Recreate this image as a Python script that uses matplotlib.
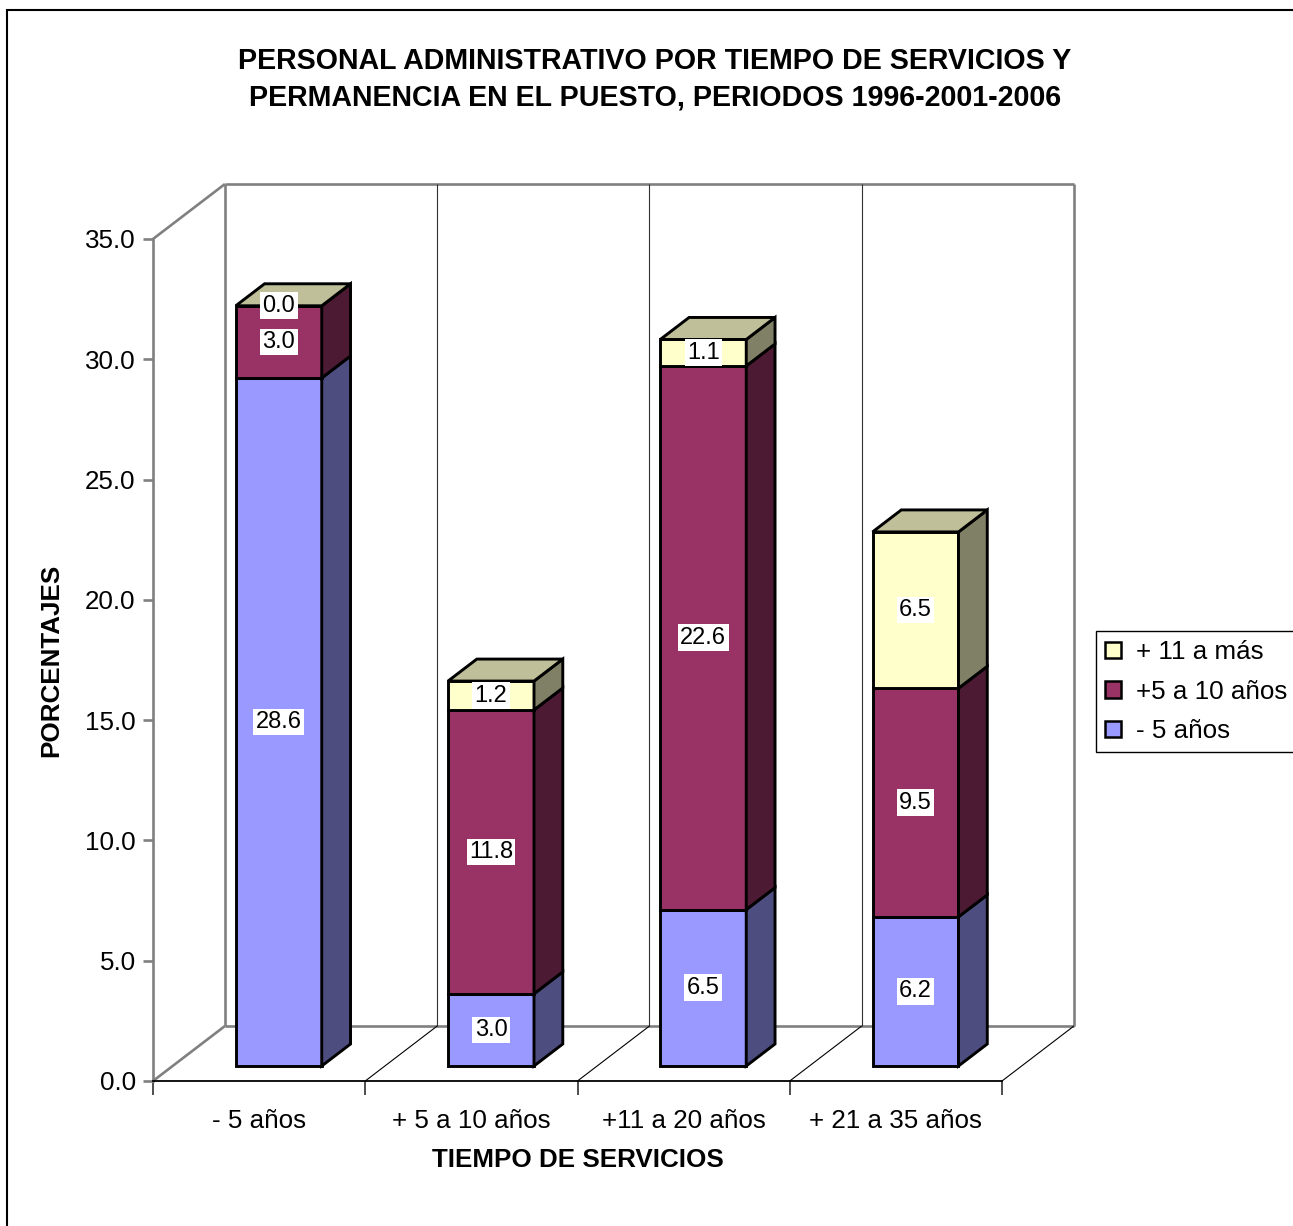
import matplotlib
matplotlib.use("Agg")
import matplotlib.pyplot as plt
from matplotlib.patches import Polygon, Patch, Rectangle
from matplotlib.colors import to_rgb

plt.rcParams['font.family'] = ['Liberation Sans', 'DejaVu Sans']

categorias = ["- 5 años", "+ 5 a 10 años", "+11 a 20 años", "+ 21 a 35 años"]
series = ["- 5 años", "+5 a 10 años", "+ 11 a más"]
menos_5 = [28.6, 3.0, 6.5, 6.2]
de_5_a_10 = [3.0, 11.8, 22.6, 9.5]
mas_11 = [0.0, 1.2, 1.1, 6.5]
colores = ["#9999FF", "#993366", "#FFFFCC"]

datos = [menos_5, de_5_a_10, mas_11]
YMAX = 35.0

# pseudo-3D: offset of the back wall, in category / value units
DX = 0.339
DY = 2.286
D0, D1 = 0.273, 0.673   # bar depth range
HW = 0.2025             # half bar width
LW = 2.1
GRIS = "#808080"


def proj(x, y, d):
    return (x + d * DX, y + d * DY)


def oscurecer(c, f):
    r, g, b = to_rgb(c)
    return (r * f, g * f, b * f)


fig = plt.figure(figsize=(12.93, 12.26), dpi=100)
ax = fig.add_axes([153 / 1293, (1226 - 1081) / 1226, 849 / 1293, 842 / 1226])
ax.set_facecolor("none")
ax.set_xlim(0, 4)
ax.set_ylim(0, YMAX)

# walls
def linea(p, q, color=GRIS, lw=1.9, z=1):
    ax.plot([p[0], q[0]], [p[1], q[1]], color=color, lw=lw, clip_on=False,
            zorder=z, solid_capstyle="butt")

n = len(categorias)
linea(proj(0, 0, 1), proj(n, 0, 1))
linea(proj(0, YMAX, 1), proj(n, YMAX, 1))
linea(proj(0, 0, 1), proj(0, YMAX, 1))
linea(proj(n, 0, 1), proj(n, YMAX, 1))
linea(proj(0, 0, 0), proj(0, 0, 1))
linea(proj(0, YMAX, 0), proj(0, YMAX, 1))
for k in range(1, n):
    linea(proj(k, 0, 1), proj(k, YMAX, 1), color="#303030", lw=0.8)
for k in range(1, n + 1):
    linea(proj(k, 0, 0), proj(k, 0, 1), color="black", lw=0.8)

# stacked bars
for i in range(n):
    xl = i + 0.5 - HW
    xr = i + 0.5 + HW
    base = 0.0
    for s, valores in enumerate(datos):
        v = valores[i]
        top = base + v
        frente = [proj(xl, base, D0), proj(xr, base, D0),
                  proj(xr, top, D0), proj(xl, top, D0)]
        lado = [proj(xr, base, D0), proj(xr, base, D1),
                proj(xr, top, D1), proj(xr, top, D0)]
        ax.add_patch(Polygon(frente, closed=True, fc=colores[s], ec="black",
                             lw=LW, joinstyle="miter", clip_on=False, zorder=3))
        ax.add_patch(Polygon(lado, closed=True, fc=oscurecer(colores[s], 0.5),
                             ec="black", lw=LW, joinstyle="miter",
                             clip_on=False, zorder=3))
        cx, cy = proj(i + 0.5, base + v / 2, D0)
        ax.text(cx, cy, f"{v:.1f}", ha="center", va="center", fontsize=17,
                zorder=6, bbox=dict(fc="white", ec="none",
                                    boxstyle="square,pad=0.1"))
        base = top
    tapa = [proj(xl, base, D0), proj(xr, base, D0),
            proj(xr, base, D1), proj(xl, base, D1)]
    ax.add_patch(Polygon(tapa, closed=True, fc=oscurecer(colores[-1], 0.75),
                         ec="black", lw=LW, joinstyle="miter",
                         clip_on=False, zorder=4))

# axes
for lado in ["top", "right"]:
    ax.spines[lado].set_visible(False)
ax.spines["left"].set_color(GRIS)
ax.spines["left"].set_linewidth(1.9)
ax.spines["bottom"].set_color("black")
ax.spines["bottom"].set_linewidth(1.3)

yt = [v * 5.0 for v in range(8)]
ax.set_yticks(yt)
ax.set_yticklabels([f"{v:.1f}" for v in yt])
ax.tick_params(axis="y", length=7.5, width=1.9, color=GRIS, pad=5,
               labelsize=18.7)

ax.set_xticks(range(n + 1))
ax.set_xticklabels([])
ax.set_xticks([k + 0.5 for k in range(n)], minor=True)
ax.set_xticklabels(categorias, minor=True)
ax.tick_params(axis="x", which="major", length=10, width=1.3, color="#404040")
ax.tick_params(axis="x", which="minor", length=0, pad=20, labelsize=18.7)

ax.set_xlabel("TIEMPO DE SERVICIOS", fontsize=18.7, fontweight="bold",
              labelpad=11)
ax.set_ylabel("PORCENTAJES", fontsize=18.7, fontweight="bold", labelpad=16)

fig.text(655 / 1293, 1 - 61 / 1226,
         "PERSONAL ADMINISTRATIVO POR TIEMPO DE SERVICIOS Y",
         ha="center", va="center", fontsize=20.6, fontweight="bold")
fig.text(655 / 1293, 1 - 98 / 1226,
         "PERMANENCIA EN EL PUESTO, PERIODOS 1996-2001-2006",
         ha="center", va="center", fontsize=20.6, fontweight="bold")

handles = [Patch(fc=colores[s], ec="black", lw=1.8) for s in range(3)][::-1]
leg = fig.legend(handles, series[::-1], loc="upper left",
                 bbox_to_anchor=(1096 / 1293, 1 - 631 / 1226),
                 bbox_transform=fig.transFigure, borderaxespad=0,
                 fontsize=18.7, fancybox=False, edgecolor="black",
                 framealpha=1, handlelength=0.6, handleheight=0.6,
                 handletextpad=0.6, borderpad=0.35, labelspacing=0.6)
leg.get_frame().set_linewidth(1.0)

fig.add_artist(Rectangle((7 / 1293, -0.05), 1.2, 1.05 - 10 / 1226,
                         transform=fig.transFigure, fill=False,
                         ec="black", lw=1.5))

fig.savefig("out.png", dpi=100)
